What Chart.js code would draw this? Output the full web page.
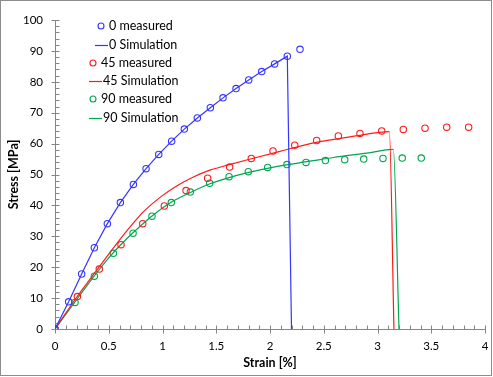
<!DOCTYPE html>
<html>
<head>
<meta charset="utf-8">
<script src="https://cdn.jsdelivr.net/npm/chart.js@4/dist/chart.umd.min.js"></script>
<style>
html,body{margin:0;padding:0;background:#fff;}
#wrap{width:493px;height:377px;position:relative;}
</style>
</head>
<body>
<div id="wrap"><canvas id="c" width="493" height="377"></canvas></div>
<script>
// ---- data ----
const seriesLabels = ['0 measured','0 Simulation','45 measured','45 Simulation','90 measured','90 Simulation'];

const m0Strain = [0,0.127,0.248,0.366,0.487,0.608,0.729,0.847,0.965,1.085,1.203,1.324,1.445,1.563,1.684,1.802,1.923,2.043,2.161,2.279];
const m0Stress = [0,8.8,17.8,26.3,34.1,40.9,46.8,51.9,56.5,60.8,64.7,68.3,71.6,74.8,77.8,80.6,83.3,85.8,88.3,90.5];

const s0Strain = [0,0.127,0.248,0.366,0.487,0.608,0.729,0.847,0.965,1.085,1.203,1.324,1.445,1.563,1.684,1.802,1.923,2.043,2.161,2.2];
const s0Stress = [0,8.8,17.8,26.3,34.1,40.9,46.8,51.9,56.5,60.8,64.7,68.3,71.6,74.8,77.8,80.6,83.3,85.8,88.3,0];

const m45Strain = [0,0.208,0.412,0.614,0.816,1.017,1.219,1.42,1.625,1.826,2.028,2.23,2.434,2.636,2.837,3.039,3.24,3.442,3.644,3.848];
const m45Stress = [0,10.5,19.4,27.3,34.1,39.8,44.8,48.8,52.4,55.2,57.6,59.5,61.0,62.5,63.3,64.1,64.6,65.0,65.3,65.3];

const s45Strain = [0,0.2,0.357,0.512,0.636,0.744,0.821,0.977,1.132,1.287,1.442,1.612,1.783,2.093,2.43,2.8,3.11,3.153];
const s45Stress = [0,10.2,17.6,24.8,30.4,34.9,37.9,42.6,46.3,49.2,51.4,53.1,54.7,57.5,60.4,62.5,63.9,0];

const m90Strain = [0,0.186,0.366,0.543,0.726,0.902,1.082,1.259,1.439,1.619,1.798,1.978,2.158,2.335,2.515,2.695,2.872,3.051,3.23,3.407];
const m90Stress = [0,8.6,17.1,24.5,31.0,36.5,40.9,44.3,47.2,49.3,50.9,52.3,53.2,53.9,54.5,54.8,55.0,55.2,55.3,55.3];

const s90Strain = [0,0.186,0.357,0.512,0.667,0.791,0.9,1.08,1.26,1.442,1.612,1.783,2.093,2.372,2.589,2.9,3.147,3.2];
const s90Stress = [0,8.8,16.8,23.5,29.2,33.2,36.5,41.0,44.2,47.0,48.9,50.5,52.8,54.3,55.5,56.9,58.1,0];

const xTickMin = 0, xTickMax = 4, xMajor = 0.5, xMinor = 0.1;
const yTickMin = 0, yTickMax = 100, yMajor = 10, yMinor = 2;

const BLUE = '#3535ff', RED = '#ff1a1a', GREEN = '#00a651';
const FONT = 'Lato, "Liberation Sans", sans-serif';

function pts(xs, ys){ return xs.map((x,i)=>({x:x, y:ys[i]})); }

function measured(label, xs, ys, color){
  return {label, data: pts(xs,ys), showLine:false, borderColor:color, backgroundColor:'rgba(0,0,0,0)',
    pointStyle:'circle', pointRadius:3.2, pointBorderWidth:1.1, pointHoverRadius:3.2, _kind:'m'};
}
function sim(label, xs, ys, color, smooth){
  return {label, data: pts(xs,ys), showLine:true, borderColor:color, backgroundColor:color,
    borderWidth:1.2, pointRadius:0, pointHoverRadius:0,
    cubicInterpolationMode: smooth ? 'monotone' : 'default', tension:0, _kind:'s'};
}

const legendPlugin = {
  id:'inLegend',
  afterDatasetsDraw(chart){
    const ctx = chart.ctx;
    const ys = [26,45,63,81,99,118];
    const tx = [109,109,101,103,101,103];
    ctx.save();
    ctx.font = '12.5px ' + FONT;
    ctx.textBaseline = 'middle';
    ctx.textAlign = 'left';
    chart.data.datasets.forEach((ds,i)=>{
      const y = ys[i], x = tx[i];
      ctx.strokeStyle = ds.borderColor;
      if (ds._kind === 'm'){
        ctx.lineWidth = 1.1;
        ctx.beginPath(); ctx.arc(x-8, y, 3, 0, Math.PI*2); ctx.stroke();
      } else {
        ctx.lineWidth = 1.2;
        ctx.beginPath(); ctx.moveTo(x-14, y+0.5); ctx.lineTo(x-1, y+0.5); ctx.stroke();
      }
      ctx.fillStyle = '#000';
      ctx.fillText(ds.label, x, y);
    });
    ctx.restore();
  }
};

const ticksPlugin = {
  id:'minorTicks',
  beforeDatasetsDraw(chart){
    const ctx = chart.ctx, xs = chart.scales.x, ys = chart.scales.y;
    const ca = chart.chartArea;
    ctx.save();
    ctx.strokeStyle = '#868686';
    ctx.lineWidth = 1;
    const ax = Math.round(ca.left) + 0.5, ay = Math.round(ca.bottom) + 0.5;
    ctx.beginPath();
    for (let v = xTickMin; v <= xTickMax + 1e-9; v += xMinor){
      const px = Math.round(xs.getPixelForValue(v)) + 0.5;
      const major = Math.abs(v/xMajor - Math.round(v/xMajor)) < 1e-6;
      if (major){ ctx.moveTo(px, ay-4); ctx.lineTo(px, ay+4); }
      else { ctx.moveTo(px, ay-4); ctx.lineTo(px, ay); }
    }
    for (let v = yTickMin; v <= yTickMax + 1e-9; v += yMinor){
      const py = Math.round(ys.getPixelForValue(v)) + 0.5;
      const major = Math.abs(v/yMajor - Math.round(v/yMajor)) < 1e-6;
      if (major){ ctx.moveTo(ax-4, py); ctx.lineTo(ax+4, py); }
      else { ctx.moveTo(ax, py); ctx.lineTo(ax+4, py); }
    }
    ctx.stroke();
    ctx.restore();
  },
  afterDraw(chart){
    const ctx = chart.ctx;
    ctx.save();
    ctx.strokeStyle = '#8c8c8c';
    ctx.lineWidth = 1;
    ctx.strokeRect(0.5, 0.5, chart.width - 2, chart.height - 2);
    ctx.restore();
  }
};

new Chart(document.getElementById('c'), {
  type:'scatter',
  data:{ datasets:[
    measured(seriesLabels[0], m0Strain, m0Stress, BLUE),
    sim(seriesLabels[1], s0Strain, s0Stress, BLUE, false),
    measured(seriesLabels[2], m45Strain, m45Stress, RED),
    sim(seriesLabels[3], s45Strain, s45Stress, RED, true),
    measured(seriesLabels[4], m90Strain, m90Stress, GREEN),
    sim(seriesLabels[5], s90Strain, s90Stress, GREEN, true)
  ]},
  options:{
    responsive:false, animation:false, devicePixelRatio:1,
    layout:{ padding:{ left:0, top:20, right:8, bottom:0 } },
    plugins:{ legend:{display:false}, tooltip:{enabled:false} },
    scales:{
      x:{ type:'linear', min:xTickMin, max:xTickMax,
        grid:{display:false, drawTicks:false}, border:{display:true, color:'#868686', width:1},
        ticks:{ stepSize:xMajor, padding:10, color:'#000', font:{family:FONT, size:11.5}, maxRotation:0,
          callback(v){ return String(Math.round(v*10)/10); } },
        title:{ display:true, text:'Strain [%]', color:'#000', font:{family:FONT, size:12.5, weight:'bold'}, padding:{top:4,bottom:7} },
        afterFit(s){ s.height = 48; s.paddingLeft = 0; s.paddingRight = 0; }
      },
      y:{ type:'linear', min:yTickMin, max:yTickMax,
        grid:{display:false, drawTicks:false}, border:{display:true, color:'#868686', width:1},
        ticks:{ stepSize:yMajor, padding:12, color:'#000', font:{family:FONT, size:11.5},
          callback(v){ return String(Math.round(v)); } },
        title:{ display:true, text:'Stress [MPa]', color:'#000', font:{family:FONT, size:12.5, weight:'bold'}, padding:{top:6,bottom:0} },
        afterFit(s){ s.width = 55; s.paddingTop = 0; s.paddingBottom = 0; }
      }
    }
  },
  plugins:[ticksPlugin, legendPlugin]
});
</script>
</body>
</html>
